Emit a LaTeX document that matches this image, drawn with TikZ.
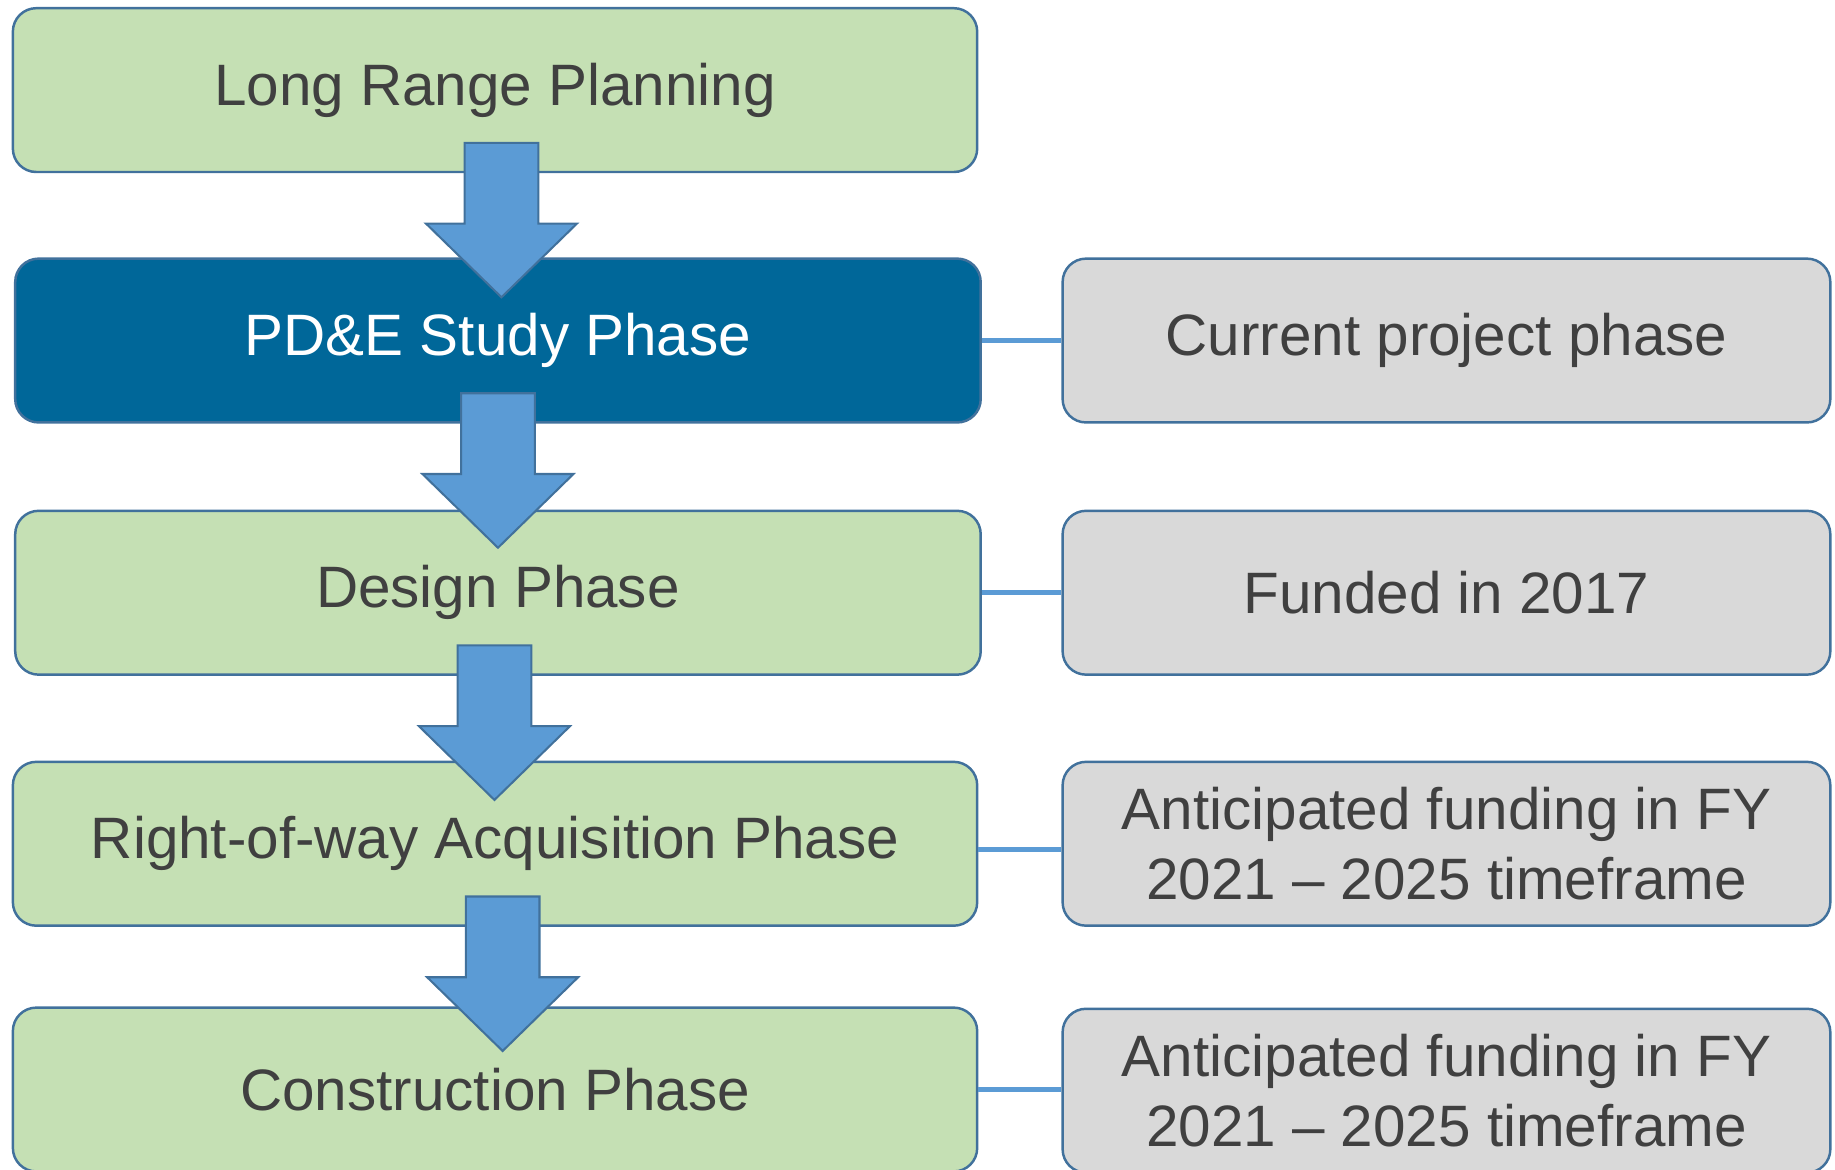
\documentclass[tikz,border=0pt]{standalone}
\usepackage{fontspec}
\setmainfont{Liberation Sans}
\usetikzlibrary{calc}

\definecolor{phasegreen}{RGB}{197,224,180}
\definecolor{phaseblue}{RGB}{0,103,153}
\definecolor{notegray}{RGB}{217,217,217}
\definecolor{edgeblue}{RGB}{65,113,156}
\definecolor{arrowblue}{RGB}{91,155,213}
\definecolor{textgray}{RGB}{64,64,64}

\tikzset{
  phasebox/.style={draw=edgeblue,line width=0.6pt,fill=phasegreen,rounded corners=2mm,
    minimum width=8.24cm,minimum height=1.4cm,text=textgray,align=center},
  notebox/.style={phasebox,fill=notegray,minimum width=6.56cm},
  blockarrow/.style={draw=edgeblue,line width=0.5pt,fill=arrowblue},
  link/.style={draw=arrowblue,line width=1.2pt}
}

\begin{document}
\begin{tikzpicture}
    \pgfmathsetmacro{\leftx}{4.23}
    \pgfmathsetmacro{\rightx}{12.36}
    \pgfmathsetmacro{\shafthalf}{0.315}
    \pgfmathsetmacro{\shaftlength}{0.69}
    \pgfmathsetmacro{\headextra}{0.33}
    \pgfmathsetmacro{\headlength}{0.63}
    \providecommand{\phasefontsize}{\fontsize{14.2pt}{17pt}\selectfont}
    \useasboundingbox (0,0) rectangle (15.68,9.99);
    % phases
    \node[phasebox,font=\phasefontsize] (lrp) at (\leftx,9.22) {Long Range Planning};
    \node[phasebox,font=\phasefontsize,fill=phaseblue,text=white,minimum width=8.25cm] (pde) at (\leftx+0.025,7.08) {PD\&E Study Phase};
    \node[phasebox,font=\phasefontsize,minimum width=8.25cm] (des) at (\leftx+0.025,4.925) {Design Phase};
    \node[phasebox,font=\phasefontsize] (row) at (\leftx,2.78) {Right-of-way Acquisition Phase};
    \node[phasebox,font=\phasefontsize] (con) at (\leftx,0.68) {Construction Phase};
    % notes
    \node[notebox,font=\phasefontsize] (cur) at (\rightx,7.08) {Current project phase};
    \node[notebox,font=\phasefontsize] (fund) at (\rightx,4.925) {Funded in 2017};
    \node[notebox,font=\phasefontsize] (ant1) at (\rightx,2.78) {Anticipated funding in FY\\2021 – 2025 timeframe};
    \node[notebox,font=\phasefontsize] (ant2) at (\rightx,0.67) {Anticipated funding in FY\\2021 – 2025 timeframe};
    \draw[link] (pde.east) -- (cur.west);
    \draw[link] (des.east) -- (fund.west);
    \draw[link] ($(row.east)+(0,-0.05)$) -- ($(ant1.west)+(0,-0.05)$);
    \draw[link] (con.east) -- (con.east -| ant2.west);
    % block arrows
    \foreach \up/\dx in {lrp/0.055,pde/0,des/-0.03,row/0.065}
        \draw[blockarrow] ($(\up.south)+(\dx,0.26)$) ++(-\shafthalf,0) -- ++(2*\shafthalf,0) -- ++(0,-\shaftlength)
            -- ++(\headextra,0) -- ++(-\shafthalf-\headextra,-\headlength) -- ++(-\shafthalf-\headextra,\headlength)
            -- ++(\headextra,0) -- cycle;
\end{tikzpicture}
\end{document}
